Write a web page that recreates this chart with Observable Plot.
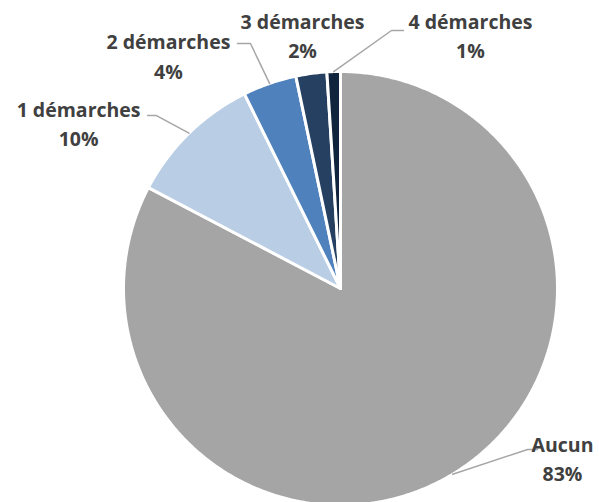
<!DOCTYPE html>
<html>
<head>
<meta charset="utf-8">
<script src="https://cdn.jsdelivr.net/npm/d3@7"></script>
<script src="https://cdn.jsdelivr.net/npm/@observablehq/plot@0.6"></script>
<style>
  html, body { margin: 0; padding: 0; background: #fff; }
  #chart svg { display: block; }
</style>
</head>
<body>
<div id="chart"></div>
<script>
// ---- data ----
const categories = ["Aucun", "1 démarches", "2 démarches", "3 démarches", "4 démarches"];
const values = [82.7, 10.0, 4.0, 2.3, 1.0];
const percentLabels = ["83%", "10%", "4%", "2%", "1%"];
const colors = ["#A5A5A5", "#B9CDE5", "#4F81BD", "#254061", "#10243E"];

// ---- layout (in pie-radius units, centre = 0,0) ----
const labelAnchor = [[1.023, -0.776], [-1.207, 0.765], [-0.793, 1.078], [-0.175, 1.171], [0.599, 1.171]];
const leaderElbow = [[0.862, -0.742, 0.908], [-0.848, 0.797, -0.889], [-0.415, 1.129, -0.475], null, [0.235, 1.189, 0.290]];

const pie = d3.pie().sort(null).value(d => d)(values);

// slice outlines
const slicePts = [];
pie.forEach((p, i) => {
  slicePts.push({cat: categories[i], x: 0, y: 0, o: 0});
  const n = Math.max(2, Math.ceil((p.endAngle - p.startAngle) / (Math.PI / 360)));
  for (let k = 0; k <= n; k++) {
    const a = p.startAngle + (p.endAngle - p.startAngle) * k / n;
    slicePts.push({cat: categories[i], x: Math.sin(a), y: Math.cos(a), o: k + 1});
  }
  slicePts.push({cat: categories[i], x: 0, y: 0, o: n + 2});
});

// leader lines
const leaders = [];
pie.forEach((p, i) => {
  const e = leaderElbow[i];
  if (!e) return;
  const a = (p.startAngle + p.endAngle) / 2;
  leaders.push({cat: categories[i], x: Math.sin(a), y: Math.cos(a)});
  leaders.push({cat: categories[i], x: e[0], y: e[1]});
  leaders.push({cat: categories[i], x: e[2], y: e[1]});
});

const labels = categories.map((c, i) => ({
  text: c + "\n" + percentLabels[i], x: labelAnchor[i][0], y: labelAnchor[i][1]
}));

const cx = 340, cy = 288, r = 217;
const chart = Plot.plot({
  width: 599,
  height: 502,
  margin: 0,
  style: {background: "#fff", overflow: "hidden"},
  x: {domain: [-1, 1], range: [cx - r, cx + r], axis: null},
  y: {domain: [-1, 1], range: [cy + r, cy - r], axis: null},
  color: {domain: categories, range: colors},
  marks: [
    Plot.line(slicePts, {x: "x", y: "y", z: "cat", fill: "cat", stroke: "#fff", strokeWidth: 3, strokeLinejoin: "round", curve: "linear"}),
    Plot.line(leaders, {x: "x", y: "y", z: "cat", stroke: "#A6A6A6", strokeWidth: 1.5}),
    Plot.text(labels, {x: "x", y: "y", text: "text", fontSize: 19.5, fontWeight: "bold", fill: "#404040", lineHeight: 1.5, fontFamily: "'Open Sans', sans-serif"})
  ]
});
document.getElementById("chart").appendChild(chart);
</script>
</body>
</html>
